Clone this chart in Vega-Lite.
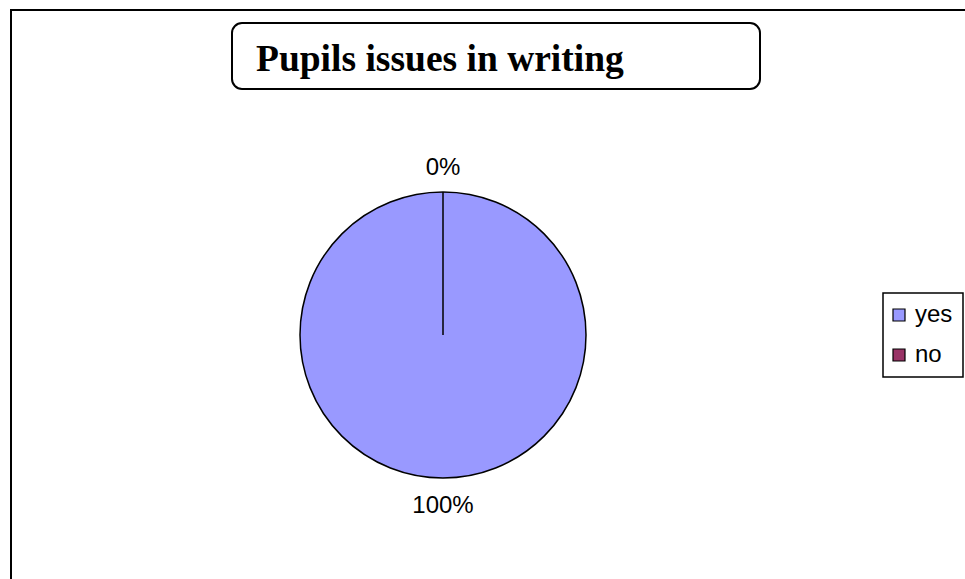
{
  "$schema": "https://vega.github.io/schema/vega-lite/v6.json",
  "autosize": "none",
  "width": 965,
  "height": 579,
  "padding": 0,
  "background": "white",
  "view": {"stroke": null},
  "config": {
    "legend": {
      "orient": "none",
      "legendX": 883,
      "legendY": 293,
      "strokeColor": "black",
      "strokeWidth": 1.5,
      "padding": 10,
      "symbolType": "square",
      "symbolSize": 144,
      "symbolOffset": -6,
      "symbolStrokeColor": "black",
      "symbolStrokeWidth": 1.2,
      "symbolOpacity": 1,
      "labelFont": "Liberation Sans",
      "labelFontSize": 24,
      "labelColor": "black",
      "labelOffset": 4,
      "rowPadding": 16,
      "titlePadding": 0
    }
  },
  "layer": [
    {
      "data": {"values": [{}]},
      "mark": {"type": "rect", "fill": null, "stroke": "black", "strokeWidth": 2},
      "encoding": {
        "x": {"value": 11},
        "x2": {"value": 1100},
        "y": {"value": 10},
        "y2": {"value": 800}
      }
    },
    {
      "data": {"values": [{}]},
      "mark": {"type": "rect", "fill": "white", "stroke": "black", "strokeWidth": 2, "cornerRadius": 10},
      "encoding": {
        "x": {"value": 232},
        "x2": {"value": 760},
        "y": {"value": 23},
        "y2": {"value": 89}
      }
    },
    {
      "data": {"values": [{"title": "Pupils issues in writing"}]},
      "mark": {"type": "text", "font": "Liberation Serif", "fontWeight": "bold", "fontSize": 37.5, "align": "left", "baseline": "alphabetic", "color": "black"},
      "encoding": {
        "text": {"field": "title"},
        "x": {"value": 256},
        "y": {"value": 71}
      }
    },
    {
      "data": {"values": [
        {"category": "yes", "value": 100, "order": 1, "label": "100%"},
        {"category": "no", "value": 0, "order": 2, "label": "0%"}
      ]},
      "layer": [
        {
          "mark": {"type": "arc", "outerRadius": 143, "stroke": "black", "strokeWidth": 1.5},
          "encoding": {
            "theta": {"field": "value", "type": "quantitative", "stack": true},
            "order": {"field": "order", "type": "quantitative"},
            "color": {
              "field": "category",
              "type": "nominal",
              "scale": {"domain": ["yes", "no"], "range": ["#9999FF", "#993366"]},
              "legend": {"title": null}
            },
            "x": {"value": 443},
            "y": {"value": 335}
          }
        },
        {
          "mark": {"type": "text", "radius": 169, "dy": 2, "font": "Liberation Sans", "fontSize": 24, "align": "center", "baseline": "middle", "color": "black"},
          "encoding": {
            "theta": {"field": "value", "type": "quantitative", "stack": true},
            "order": {"field": "order", "type": "quantitative"},
            "text": {"field": "label"},
            "x": {"value": 443},
            "y": {"value": 335}
          }
        }
      ]
    }
  ]
}
